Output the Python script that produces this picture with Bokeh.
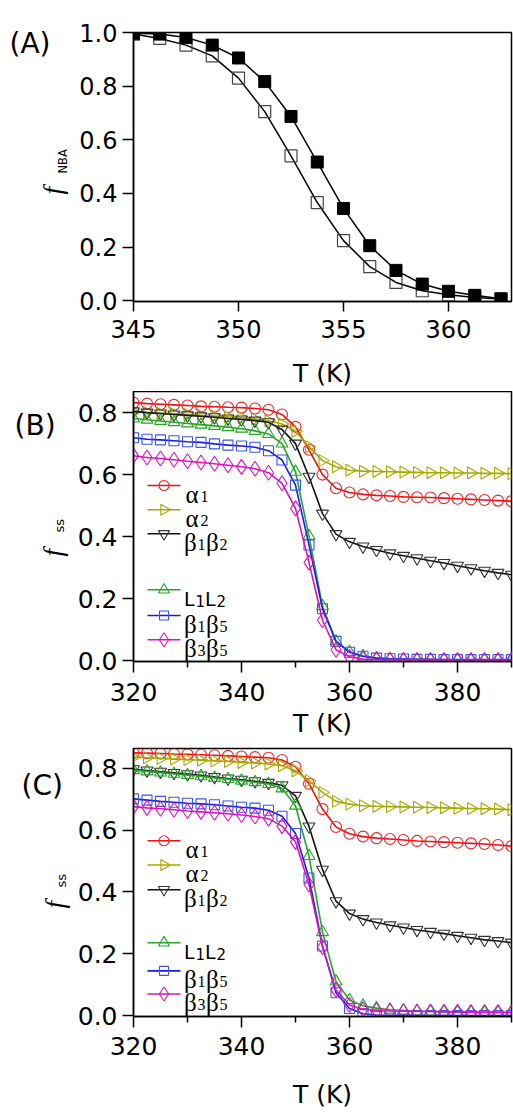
from math import pi
from bokeh.plotting import figure
from bokeh.models import Range1d, FixedTicker, PrintfTickFormatter, Label
from bokeh.core.properties import value
from bokeh.layouts import column, row
from bokeh.embed import file_html
from bokeh.resources import INLINE

# ---------------- data ----------------
# Panel A
T_A = [345, 346.25, 347.5, 348.75, 350, 351.25, 352.5, 353.75, 355, 356.25, 357.5, 358.75, 360, 361.25, 362.5]
fnba_filled = [0.997, 0.994, 0.981, 0.953, 0.905, 0.817, 0.687, 0.517, 0.344, 0.205, 0.113, 0.062, 0.035, 0.020, 0.007]
fnba_open = [0.994, 0.978, 0.953, 0.913, 0.830, 0.705, 0.540, 0.366, 0.224, 0.127, 0.068, 0.037, 0.022, 0.012, 0.006]

# Panels B and C: temperatures 320..390 K every 2.5 K
T_BC = [320, 322.5, 325, 327.5, 330, 332.5, 335, 337.5, 340, 342.5, 345, 347.5, 350, 352.5, 355,
        357.5, 360, 362.5, 365, 367.5, 370, 372.5, 375, 377.5, 380, 382.5, 385, 387.5, 390]

B_a1 = [0.832, 0.829, 0.827, 0.825, 0.823, 0.820, 0.819, 0.817, 0.816, 0.813, 0.809, 0.794, 0.754, 0.680, 0.600,
        0.556, 0.542, 0.536, 0.533, 0.531, 0.528, 0.527, 0.526, 0.524, 0.522, 0.520, 0.518, 0.516, 0.514]
B_a2 = [0.802, 0.800, 0.798, 0.796, 0.794, 0.791, 0.789, 0.786, 0.784, 0.779, 0.773, 0.763, 0.740, 0.690, 0.645,
        0.625, 0.614, 0.611, 0.610, 0.609, 0.608, 0.607, 0.606, 0.606, 0.605, 0.605, 0.604, 0.604, 0.603]
B_b1b2 = [0.804, 0.800, 0.797, 0.794, 0.791, 0.788, 0.785, 0.781, 0.778, 0.774, 0.769, 0.745, 0.700, 0.593, 0.474,
          0.408, 0.383, 0.368, 0.357, 0.346, 0.338, 0.330, 0.322, 0.315, 0.306, 0.298, 0.290, 0.283, 0.277]
B_L1L2 = [0.781, 0.777, 0.773, 0.769, 0.765, 0.761, 0.757, 0.753, 0.748, 0.741, 0.731, 0.700, 0.609, 0.402, 0.175,
          0.062, 0.028, 0.014, 0.008, 0.005, 0.004, 0.003, 0.003, 0.002, 0.002, 0.002, 0.002, 0.002, 0.002]
B_b1b5 = [0.719, 0.714, 0.712, 0.709, 0.706, 0.704, 0.699, 0.695, 0.692, 0.688, 0.677, 0.647, 0.566, 0.373, 0.167,
          0.062, 0.027, 0.014, 0.008, 0.006, 0.005, 0.004, 0.004, 0.003, 0.003, 0.003, 0.003, 0.003, 0.003]
B_b3b5 = [0.661, 0.655, 0.652, 0.648, 0.643, 0.639, 0.635, 0.630, 0.625, 0.619, 0.606, 0.572, 0.491, 0.316, 0.130,
          0.035, 0.012, 0.005, 0.003, 0.002, 0.002, 0.002, 0.002, 0.002, 0.002, 0.002, 0.002, 0.002, 0.002]

C_a1 = [0.850, 0.849, 0.848, 0.846, 0.845, 0.844, 0.842, 0.840, 0.838, 0.836, 0.834, 0.827, 0.805, 0.750, 0.668,
        0.610, 0.588, 0.579, 0.574, 0.571, 0.568, 0.565, 0.563, 0.561, 0.559, 0.557, 0.555, 0.552, 0.548]
C_a2 = [0.836, 0.834, 0.832, 0.830, 0.828, 0.826, 0.824, 0.822, 0.819, 0.817, 0.814, 0.808, 0.792, 0.760, 0.722,
        0.693, 0.684, 0.679, 0.677, 0.676, 0.675, 0.674, 0.673, 0.672, 0.671, 0.670, 0.669, 0.668, 0.666]
C_b1b2 = [0.797, 0.793, 0.789, 0.785, 0.781, 0.777, 0.772, 0.767, 0.763, 0.758, 0.753, 0.745, 0.711, 0.612, 0.472,
          0.370, 0.330, 0.312, 0.301, 0.292, 0.285, 0.277, 0.271, 0.265, 0.258, 0.252, 0.245, 0.241, 0.236]
C_L1L2 = [0.794, 0.790, 0.786, 0.782, 0.778, 0.774, 0.769, 0.765, 0.760, 0.755, 0.749, 0.735, 0.679, 0.516, 0.270,
          0.110, 0.050, 0.032, 0.024, 0.019, 0.016, 0.014, 0.013, 0.012, 0.011, 0.011, 0.010, 0.010, 0.010]
C_b1b5 = [0.701, 0.697, 0.693, 0.690, 0.687, 0.685, 0.682, 0.678, 0.674, 0.671, 0.664, 0.645, 0.589, 0.445, 0.225,
          0.074, 0.023, 0.006, 0.002, 0.001, 0.001, 0.000, 0.000, 0.000, 0.000, 0.000, 0.000, 0.000, 0.000]
C_b3b5 = [0.676, 0.672, 0.669, 0.666, 0.662, 0.659, 0.656, 0.653, 0.649, 0.644, 0.637, 0.613, 0.562, 0.424, 0.222,
          0.083, 0.034, 0.020, 0.017, 0.015, 0.014, 0.013, 0.013, 0.012, 0.012, 0.011, 0.011, 0.011, 0.010]

# legend labels: (main glyph, subscript) pairs
legend_tokens = [
    [("α", "1")],
    [("α", "2")],
    [("β", "1"), ("β", "2")],
    [("L", "1"), ("L", "2")],
    [("β", "1"), ("β", "5")],
    [("β", "3"), ("β", "5")],
]
ticks_A_x = [345, 350, 355, 360]
ticks_A_y = [0.0, 0.2, 0.4, 0.6, 0.8, 1.0]
ticks_BC_x = [320, 340, 360, 380]
minor_BC_x = [330, 350, 370, 390]
ticks_BC_y = [0.0, 0.2, 0.4, 0.6, 0.8]

# ---------------- styles / layout ----------------
colors = ["#ee1111", "#a8a800", "#111111", "#22a822", "#1a1ae6", "#dd10c0"]
mcolors = ["#ee2222", "#a8a800", "#333333", "#22a822", "#3a55ee", "#dd10c0"]
markers = ["circle", "triangle", "inverted_triangle", "triangle", "square", "diamond"]
angles = [0, -pi / 2, 0, 0, 0, 0]
msizes = [11, 12, 12, 12, 10, 15]
SANS = "DejaVu Sans"
SERIF = "Liberation Serif"
TOTAL_W = 513
SIDE_W = 72          # left strip holding the panel letter and the y-axis title
MAIN_W = TOTAL_W - SIDE_W
BORDER_L = 133 - SIDE_W
BORDER_R = 2
FRAME_W = MAIN_W - BORDER_L - BORDER_R


def base_fig(height, xr, yr, top, bottom, xt, yt, minor=None, tick_size="24px",
             label_standoff=8, xlabel_standoff=10):
    p = figure(width=MAIN_W, height=height, x_range=Range1d(*xr), y_range=Range1d(*yr),
               output_backend="svg", toolbar_location=None, title=None, frame_align=False,
               min_border_left=BORDER_L, min_border_right=BORDER_R, min_border_top=top, min_border_bottom=bottom)
    p.xgrid.visible = False
    p.ygrid.visible = False
    p.outline_line_color = "black"
    p.outline_line_width = 1.5
    p.outline_line_alpha = 1.0
    p.background_fill_color = "white"
    p.border_fill_color = "white"
    p.xaxis.ticker = FixedTicker(ticks=xt, minor_ticks=minor or [])
    p.yaxis.ticker = FixedTicker(ticks=yt)
    p.yaxis.formatter = PrintfTickFormatter(format="%.1f")
    for ax in (p.xaxis[0], p.yaxis[0]):
        ax.axis_line_width = 1.5
        ax.axis_line_color = "black"
        ax.major_tick_line_width = 1.5
        ax.minor_tick_line_width = 1.5
        ax.major_tick_in = 0
        ax.minor_tick_in = 0
        ax.major_tick_out = 11
        ax.minor_tick_out = 6
        ax.major_label_text_font = SANS
        ax.major_label_text_font_size = tick_size
        ax.major_label_text_color = "black"
    p.yaxis.major_label_standoff = 5
    p.xaxis.major_label_standoff = label_standoff
    p.xaxis.axis_label = "T (K)"
    p.xaxis.axis_label_text_font = SANS
    p.xaxis.axis_label_text_font_size = "25px"
    p.xaxis.axis_label_text_font_style = "normal"
    p.xaxis.axis_label_text_color = "black"
    p.xaxis.axis_label_standoff = xlabel_standoff
    return p


class Side:
    """Left strip holding panel letter and y-axis title; positions given in page pixels."""

    def __init__(self, top, height):
        self.top, self.height = top, height
        s = figure(width=SIDE_W, height=height, x_range=Range1d(0, SIDE_W), y_range=Range1d(0, height),
                   output_backend="svg", toolbar_location=None, title=None, frame_align=False,
                   x_axis_location=None, y_axis_location=None,
                   min_border_left=0, min_border_right=0, min_border_top=0, min_border_bottom=0)
        s.xgrid.visible = False
        s.ygrid.visible = False
        s.outline_line_color = None
        s.background_fill_color = "white"
        s.border_fill_color = "white"
        self.fig = s

    def y(self, page_y):
        return self.top + self.height - page_y

    def texts(self, letter, letter_xy, sub, f_xy, sub_xy, sub_size):
        s = self.fig
        s.text(x=[letter_xy[0]], y=[self.y(letter_xy[1])], text=[letter], text_font=value(SANS),
               text_font_size="28px", text_align="left", text_baseline="alphabetic", text_color="black")
        # rotated y-axis title: italic f followed by a small upright subscript
        s.add_layout(Label(x=f_xy[0], y=self.y(f_xy[1]), text="f", angle=pi / 2, angle_units="rad",
                           text_font=SERIF, text_font_style="italic", text_font_size="27px",
                           text_align="left", text_baseline="alphabetic", text_color="black"))
        s.add_layout(Label(x=sub_xy[0], y=self.y(sub_xy[1]), text=sub, angle=pi / 2, angle_units="rad",
                           text_font=SANS, text_font_size=sub_size,
                           text_align="left", text_baseline="alphabetic", text_color="black"))


# vertical plan (page pixels): A 0-391, B 391-744, C 744-1111
H_A, H_B, H_C = 391, 353, 367
TOP_A, TOP_B, TOP_C = 0, H_A, H_A + H_B

# ---------------- panel A ----------------
pA = base_fig(H_A, (345, 363), (-0.003, 1.0), 32, 90, ticks_A_x, ticks_A_y, tick_size="24px",
              label_standoff=8, xlabel_standoff=18)
pA.xaxis.major_tick_out = 10
pA.line(T_A, fnba_open, line_color="black", line_width=1.5)
pA.line(T_A, fnba_filled, line_color="black", line_width=1.5)
pA.scatter(T_A, fnba_open, marker="square", size=12, fill_color=None, line_color="#444444", line_width=1.2)
pA.scatter(T_A, fnba_filled, marker="square", size=12, fill_color="black", line_color="black", line_width=1)
sA = Side(TOP_A, H_A)
sA.texts("(A)", (9, 43), "NBA", (52, 194), (62, 173), "11.5px")


# ---------------- panels B and C ----------------
def fill_panel(p, series, xr, yr, frame_h, rows_px):
    """rows_px: vertical pixel offsets (from frame top) of the legend rows."""
    def dx(px):  # horizontal pixel offset from frame left -> data
        return xr[0] + px / FRAME_W * (xr[1] - xr[0])

    def dy(py):  # vertical pixel offset from frame top -> data
        return yr[1] - py / frame_h * (yr[1] - yr[0])

    for i, ys in enumerate(series):
        p.line(T_BC, ys, line_color=colors[i], line_width=1.6)
        p.scatter(T_BC, ys, marker=markers[i], size=msizes[i], angle=angles[i],
                  fill_color=None, line_color=mcolors[i], line_width=1.1)
    # legend, drawn as marks inside the frame
    for i, ry in enumerate(rows_px):
        p.line([dx(14), dx(47)], [dy(ry), dy(ry)], line_color=colors[i], line_width=1.6)
        p.scatter([dx(30.5)], [dy(ry)], marker=markers[i], size=msizes[i] - 1, angle=angles[i],
                  fill_color=None, line_color=mcolors[i], line_width=1.1)
        if i == 3:
            main_font, main_size, sub_size, steps = SANS, "19px", "15px", (11.5, 9.5)
            base_off, sub_off = 9, 11
        else:
            main_font, main_size, sub_size = SERIF, "25px", "16px"
            steps = (15, 8.5) if i < 2 else (13.5, 8.5)
            base_off, sub_off = 8.5, 11
        x = 52 if i < 2 else 50.5
        for main, sub in legend_tokens[i]:
            p.text(x=[dx(x)], y=[dy(ry + base_off)], text=[main], text_font=value(main_font),
                   text_font_size=main_size, text_align="left", text_baseline="alphabetic", text_color="black")
            x += steps[0]
            p.text(x=[dx(x)], y=[dy(ry + sub_off)], text=[sub], text_font=value(main_font),
                   text_font_size=sub_size, text_align="left", text_baseline="alphabetic", text_color="black")
            x += steps[1]


xr_BC = (320, 390)
yr_B = (-0.003, 0.868)
yr_C = (-0.003, 0.864)
pB = base_fig(H_B, xr_BC, yr_B, 0, 83, ticks_BC_x, ticks_BC_y, minor=minor_BC_x,
              tick_size="25px", label_standoff=10, xlabel_standoff=5)
fill_panel(pB, [B_a1, B_a2, B_b1b2, B_L1L2, B_b1b5, B_b3b5], xr_BC, yr_B, H_B - 0 - 83,
           [94, 118.3, 142.3, 198.3, 224, 248.3])
sB = Side(TOP_B, H_B)
sB.texts("(B)", (14, 425), "ss", (52, 556), (58.5, 532), "13px")

pC = base_fig(H_C, xr_BC, yr_C, 4, 93, ticks_BC_x, ticks_BC_y, minor=minor_BC_x,
              tick_size="25px", label_standoff=9, xlabel_standoff=22)
fill_panel(pC, [C_a1, C_a2, C_b1b2, C_L1L2, C_b1b5, C_b3b5], xr_BC, yr_C, H_C - 4 - 93,
           [93, 117.3, 142.3, 195.7, 224, 247.3])
sC = Side(TOP_C, H_C)
sC.texts("(C)", (21, 785), "ss", (54, 908), (61, 887), "13px")

layout = column(row(sA.fig, pA, spacing=0), row(sB.fig, pB, spacing=0), row(sC.fig, pC, spacing=0), spacing=0)
open("out.html", "w").write(file_html(layout, INLINE))
